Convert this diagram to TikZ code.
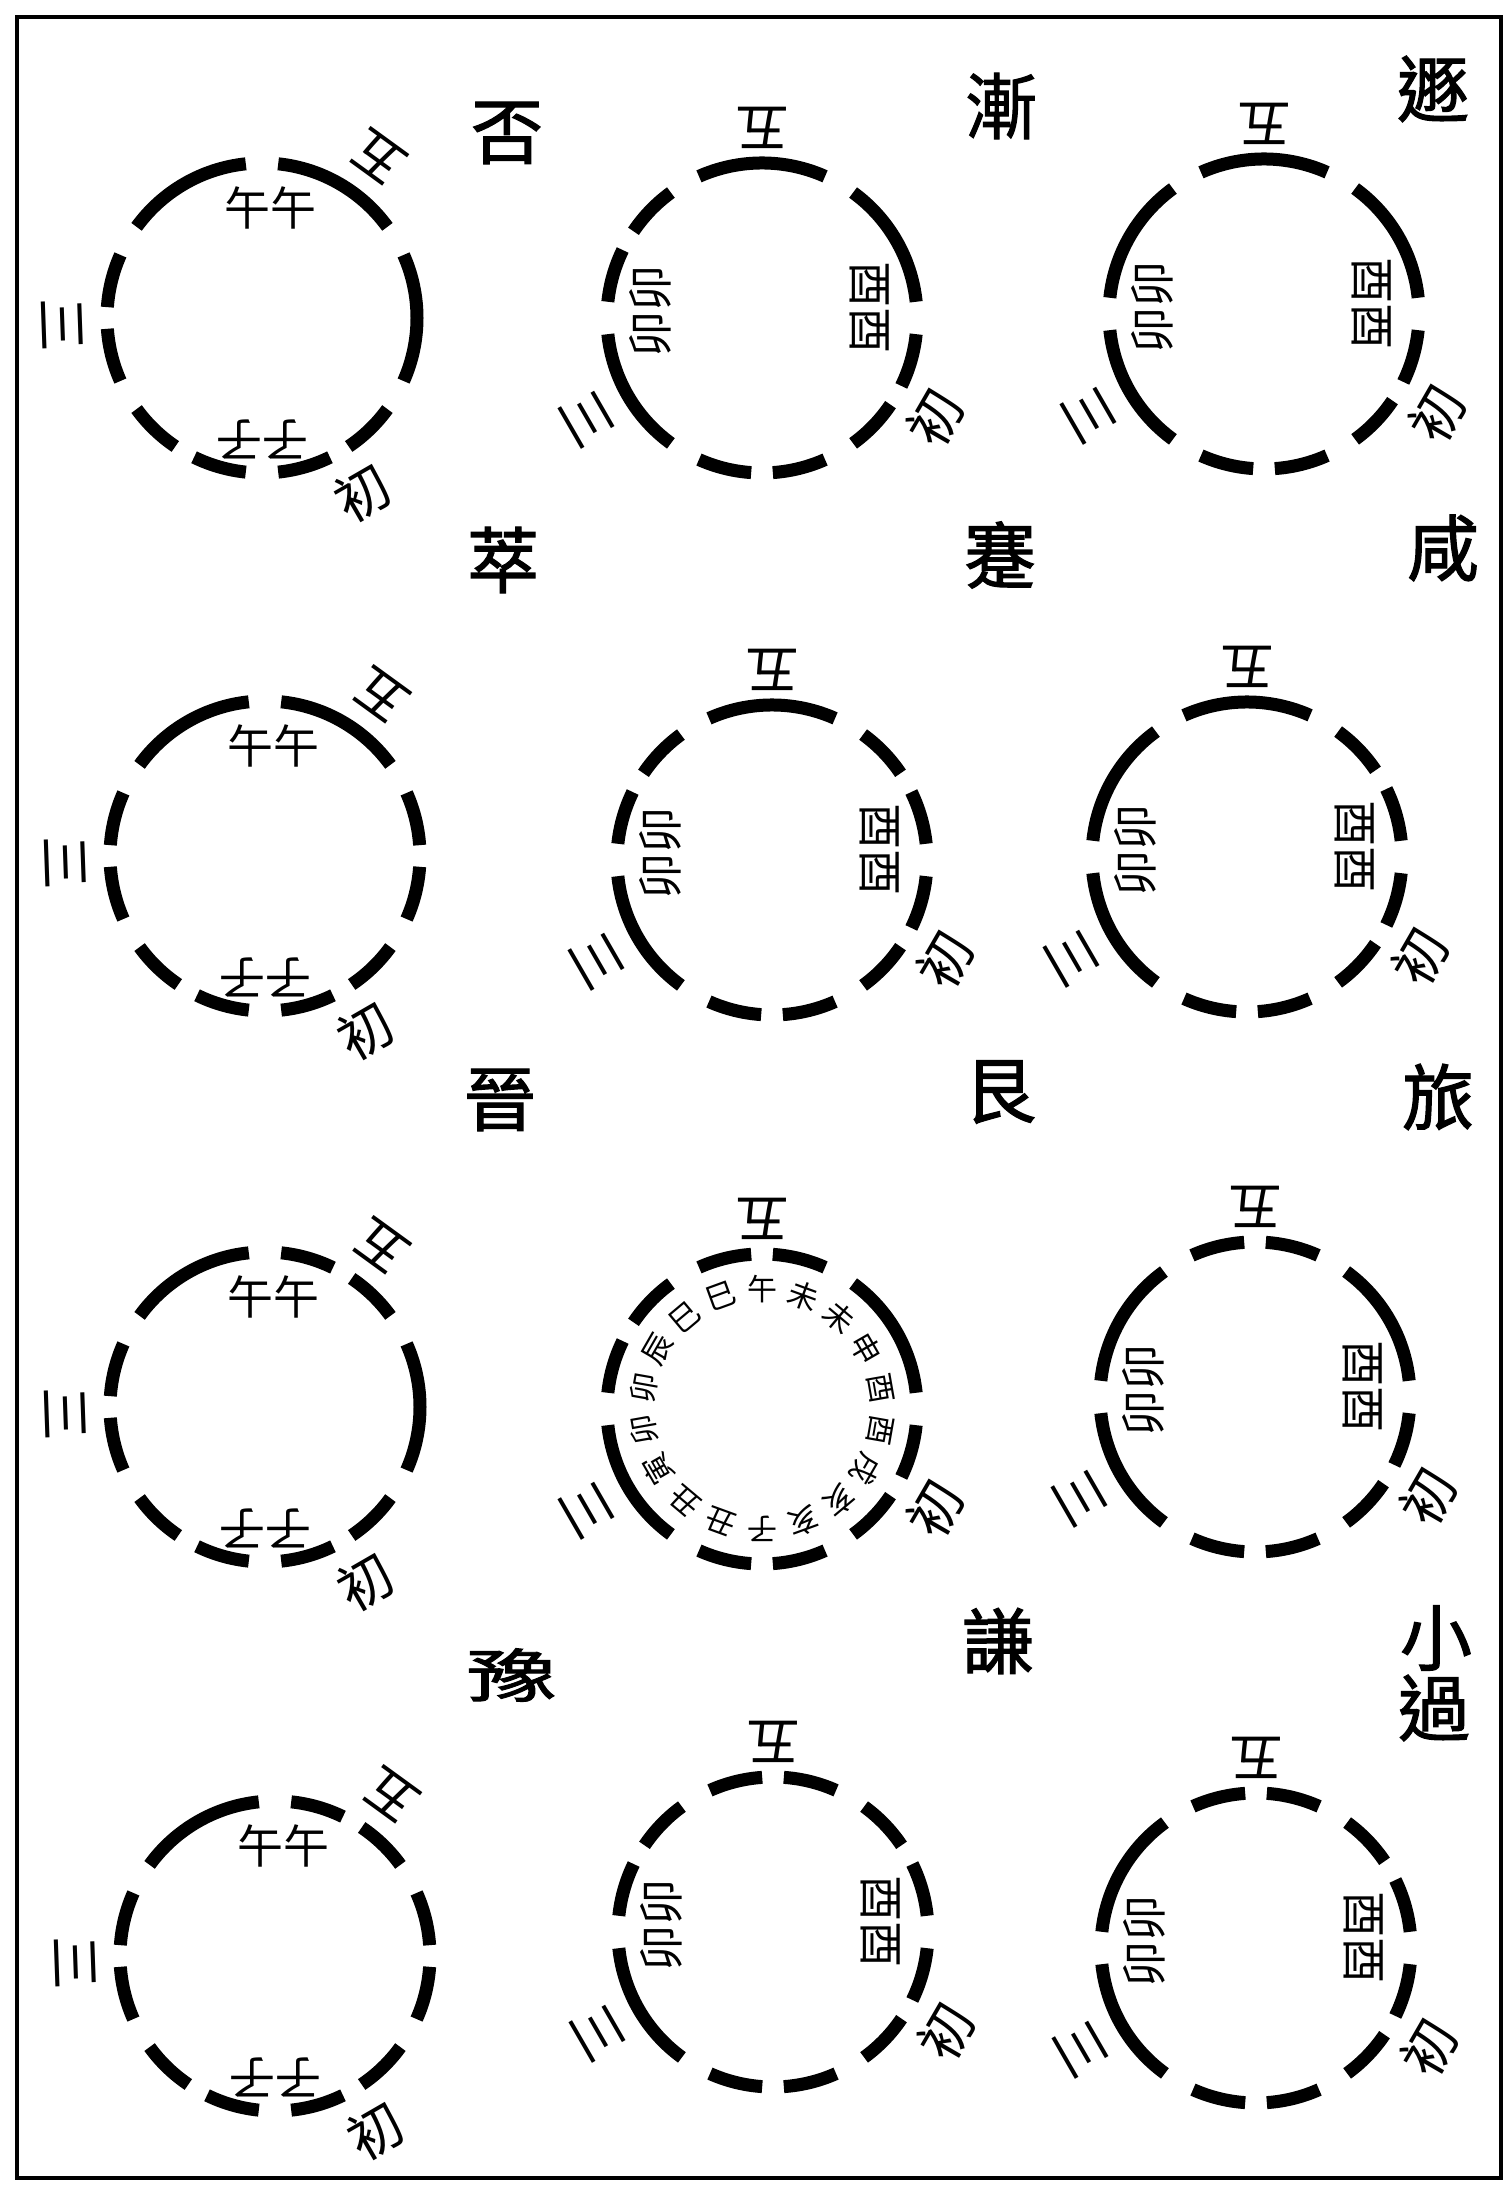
\documentclass[tikz,border=0pt]{standalone}
\usepackage{fontspec}
\newfontfamily\cjk{Noto Sans CJK TC}
\newfontfamily\cjkb[FakeBold=1.6]{Noto Sans CJK TC}
\usetikzlibrary{calc}
\tikzset{
  frame/.style={line width=2pt},
  yao/.style={line width=6.5pt},
  guaname/.style={font=\cjkb\fontsize{36}{36}\selectfont, inner sep=0pt},
  wei/.style={font=\cjk\fontsize{27}{27}\selectfont, inner sep=0pt},
  zhi/.style={font=\cjk\fontsize{23}{23}\selectfont, inner sep=0pt},
  ring/.style={font=\cjk\fontsize{15}{15}\selectfont, inner sep=0pt},
}
% six yao round a centre: #1 centre, #2 angle of the first yao, #3 yao from the bottom (1 yang, 0 yin)
\newcommand{\yaoring}[3]{%
  \foreach \v [count=\k] in {#3} {
    \pgfmathsetmacro\yc{#2-60*(\k-1)}
    \ifnum\v=1
      \draw[yao] (#1) ++(\yc+24:77.5pt) arc[start angle=\yc+24, end angle=\yc-24, radius=77.5pt];
    \else
      \draw[yao] (#1) ++(\yc+24:77.5pt) arc[start angle=\yc+24, end angle=\yc+4, radius=77.5pt];
      \draw[yao] (#1) ++(\yc-4:77.5pt) arc[start angle=\yc-4, end angle=\yc-24, radius=77.5pt];
    \fi
  }%
}
% marks of the first column (kun below)
\newcommand{\kunmarks}[2]{%
  \node[wei, rotate=144] (#2-wu) at ($(#1)+(54:99pt)$) {五};
  \node[wei, rotate=-88] (#2-san) at ($(#1)+(182:100pt)$) {三};
  \node[wei, rotate=30] (#2-chu) at ($(#1)+(-60:101pt)$) {初};
  \node[zhi] (#2-wuu) at ($(#1)+(4pt,55pt)$) {午午};
  \node[zhi, rotate=180] (#2-zi) at ($(#1)+(0pt,-61pt)$) {子子};
}
% marks of the other columns (gen below)
\newcommand{\genmarks}[2]{%
  \node[wei, rotate=180] (#2-wu) at ($(#1)+(90:95pt)$) {五};
  \node[wei, rotate=-60] (#2-san) at ($(#1)+(-150:101pt)$) {三};
  \node[wei, rotate=60] (#2-chu) at ($(#1)+(-30:100pt)$) {初};
}
\newcommand{\maoyou}[2]{%
  \node[zhi, rotate=90] (#2-mao) at ($(#1)+(-56pt,3pt)$) {卯卯};
  \node[zhi, rotate=-90] (#2-you) at ($(#1)+(54pt,5pt)$) {酉酉};
}

\begin{document}
\begin{tikzpicture}[x=0.5pt, y=0.5pt]
\useasboundingbox (0,0) rectangle (1505,2203);
\draw[frame] (17,25) rectangle (1501,2186);

% centres of the twelve rings
\coordinate (fou) at (262,1885);
\coordinate (jian) at (762,1885);
\coordinate (dun) at (1264,1889);
\coordinate (cui) at (265,1347);
\coordinate (jianb) at (772,1343);
\coordinate (xian) at (1247,1346);
\coordinate (jin) at (265,796);
\coordinate (gen) at (762,794);
\coordinate (lv) at (1255,806);
\coordinate (yu) at (275,247);
\coordinate (qian) at (773,271);
\coordinate (xguo) at (1256,255);

% names
\node[guaname] (t-fou) at (507,2070) {否};
\node[guaname] (t-jian) at (1001,2097) {漸};
\node[guaname] (t-dun) at (1433,2114) {遯};
\node[guaname] (t-cui) at (503,1643) {萃};
\node[guaname] (t-jianb) at (1000,1648) {蹇};
\node[guaname] (t-xian) at (1443,1655) {咸};
\node[guaname] (t-jin) at (500,1103) {晉};
\node[guaname] (t-gen) at (1000,1111) {艮};
\node[guaname] (t-lv) at (1438,1106) {旅};
\node[guaname] (t-yu) at (512,528) {\scalebox{1.25}[0.8]{豫}};
\node[guaname] (t-qian) at (998,562) {謙};
\node[guaname] (t-xiao) at (1436,565) {小};
\node[guaname] (t-guo) at (1434,495) {過};

% yao
\yaoring{fou}{-60}{0,0,0,1,1,1}
\yaoring{cui}{-60}{0,0,0,1,1,0}
\yaoring{jin}{-60}{0,0,0,1,0,1}
\yaoring{yu}{-60}{0,0,0,1,0,0}
\yaoring{jian}{-30}{0,0,1,0,1,1}
\yaoring{dun}{-30}{0,0,1,1,1,1}
\yaoring{jianb}{-30}{0,0,1,0,1,0}
\yaoring{xian}{-30}{0,0,1,1,1,0}
\yaoring{gen}{-30}{0,0,1,0,0,1}
\yaoring{lv}{-30}{0,0,1,1,0,1}
\yaoring{qian}{-30}{0,0,1,0,0,0}
\yaoring{xguo}{-30}{0,0,1,1,0,0}

% marks
\kunmarks{fou}{fou}
\kunmarks{cui}{cui}
\kunmarks{jin}{jin}
\kunmarks{yu}{yu}
\genmarks{jian}{jian} \maoyou{jian}{jian}
\genmarks{dun}{dun} \maoyou{dun}{dun}
\genmarks{jianb}{jianb} \maoyou{jianb}{jianb}
\genmarks{xian}{xian} \maoyou{xian}{xian}
\genmarks{lv}{lv} \maoyou{lv}{lv}
\genmarks{qian}{qian} \maoyou{qian}{qian}
\genmarks{xguo}{xguo} \maoyou{xguo}{xguo}
\genmarks{gen}{gen}

% branches inside gen, one every 20 degrees from the top
\foreach \z [count=\i, evaluate=\i as \a using 110-20*\i] in {午,未,未,申,酉,酉,戌,亥,亥,子,丑,丑,寅,卯,卯,辰,巳,巳}
  \node[ring, rotate=\a-90] (gen-\i) at ($(gen)+(\a:60pt)$) {\z};
\end{tikzpicture}
\end{document}
